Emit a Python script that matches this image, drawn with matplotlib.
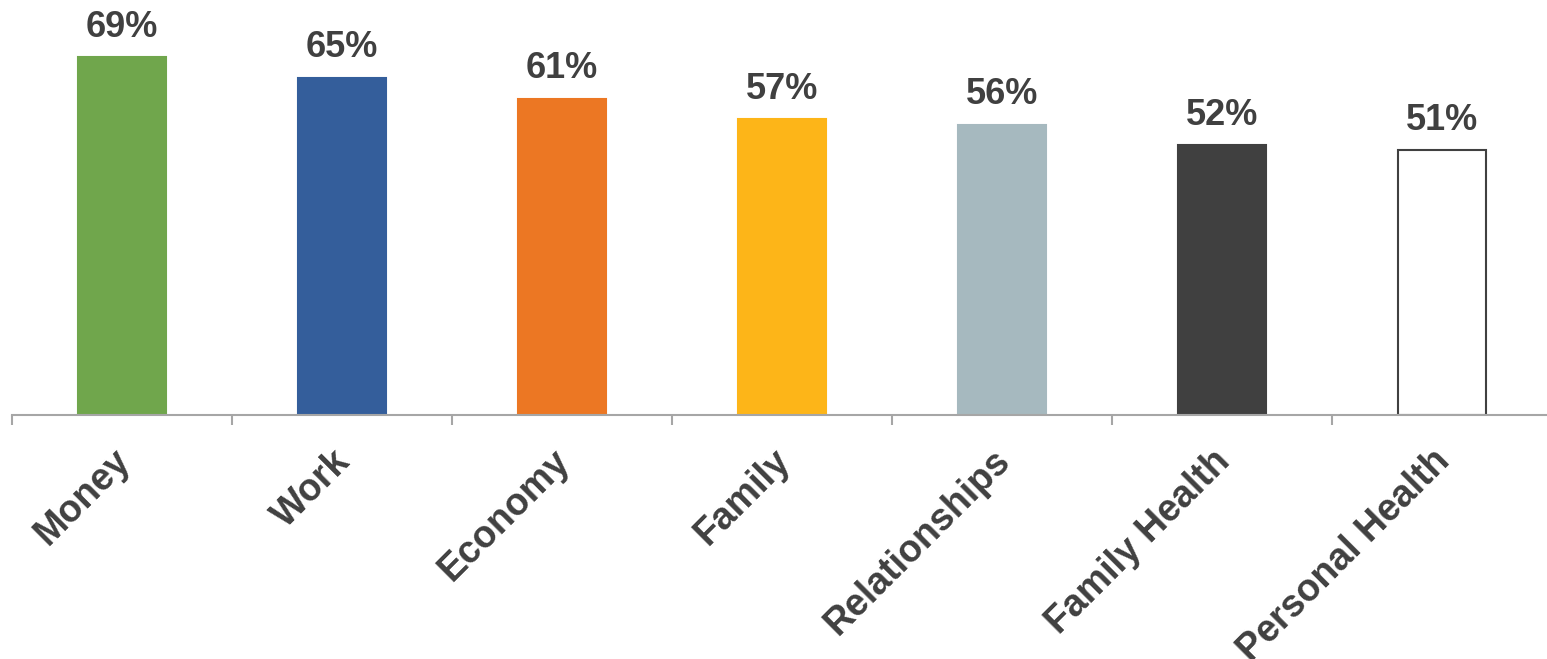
import numpy as np
import matplotlib.pyplot as plt
from matplotlib.transforms import ScaledTranslation

# data
categories = ["Money", "Work", "Economy", "Family", "Relationships",
              "Family Health", "Personal Health"]
values = [69, 65, 61, 57, 56, 52, 51]
colors = ["#70A64C", "#345E9B", "#EC7723", "#FDB518", "#A6B9BF", "#404040", "#FFFFFF"]
edges = ["#70A64C", "#345E9B", "#EC7723", "#FDB518", "#A6B9BF", "#404040", "#404040"]

txt = "#404040"
plt.rcParams['font.family'] = ['Liberation Sans', 'DejaVu Sans']

fig = plt.figure(figsize=(15.47, 6.59), dpi=100)
# axes run a little off the right edge like in the reference
ax = fig.add_axes([12 / 1547, 1 - 415 / 659, 1540 / 1547, 415 / 659])

x = np.arange(len(categories))
ax.bar(x, values, width=0.4, color=colors, edgecolor=edges, linewidth=1.5, zorder=2)

for xi, v in zip(x, values):
    ax.annotate(f"{v}%", (xi, v), xytext=(0, 9), textcoords="offset points",
                ha="center", va="bottom", fontsize=26, fontweight="bold", color=txt)

ax.set_xlim(-0.5, len(categories) - 0.5)
ax.set_ylim(0, 80)

for s in ["top", "right", "left"]:
    ax.spines[s].set_visible(False)
ax.spines["bottom"].set_color("#A6A6A6")
ax.spines["bottom"].set_linewidth(1.5)
ax.set_yticks([])

ax.set_xticks(x)
ax.set_xticklabels(categories, rotation=45, ha="right", va="top",
                   rotation_mode="anchor", fontsize=27, fontweight="bold", color=txt)
ax.tick_params(axis="x", which="major", length=0, pad=20)
shift = ScaledTranslation(-0.10, 0, fig.dpi_scale_trans)
for lbl in ax.get_xticklabels():
    lbl.set_transform(lbl.get_transform() + shift)
ax.set_xticks(np.arange(len(categories) + 1) - 0.5, minor=True)
ax.tick_params(axis="x", which="minor", length=7.5, width=1.5, color="#A6A6A6", direction="out")

fig.savefig("out.png", dpi=100)
